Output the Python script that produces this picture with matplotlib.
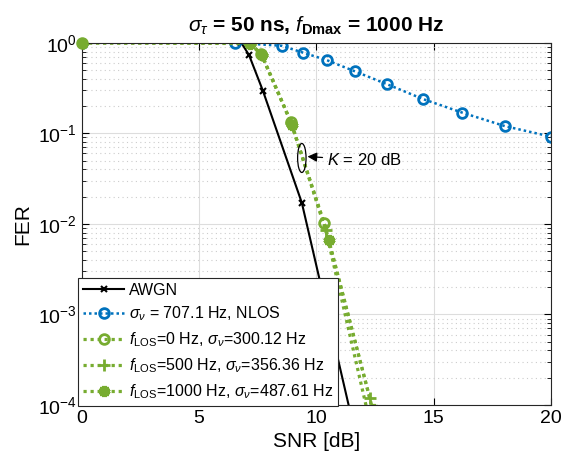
import matplotlib.pyplot as plt
import numpy as np
from matplotlib.patches import Ellipse

plt.rcParams['font.family'] = ['Liberation Sans', 'DejaVu Sans']
plt.rcParams['mathtext.fontset'] = 'custom'
plt.rcParams['mathtext.rm'] = 'Liberation Sans'
plt.rcParams['mathtext.it'] = 'Liberation Sans:italic'
plt.rcParams['mathtext.bf'] = 'Liberation Sans:bold'

# data
snr_awgn = [0, 6.8, 7.13, 7.72, 9.38, 12.0]
fer_awgn = [1, 1, 0.73, 0.295, 0.0171, 2e-5]

snr_nlos = [0, 6.52, 8.52, 9.42, 10.44, 11.65, 13.0, 14.55, 16.23, 18.05, 20.0]
fer_nlos = [1, 1, 0.927, 0.78, 0.644, 0.483, 0.35, 0.239, 0.169, 0.12, 0.092]

snr_los0 = [0, 7.15, 7.65, 8.9, 10.33, 12.2]
fer_los0 = [1, 1, 0.75, 0.135, 0.0103, 8e-5]

snr_los500 = [0, 7.15, 7.66, 8.93, 10.42, 12.28]
fer_los500 = [1, 1, 0.74, 0.13, 0.0085, 1.19e-4]

snr_los1000 = [0, 7.16, 7.68, 8.96, 10.53, 12.4]
fer_los1000 = [1, 0.98, 0.73, 0.125, 0.0066, 9e-5]

blue = '#0072BD'
green = '#77AC30'
dots = (0, (1, 1.2))

fig = plt.figure(figsize=(5.69, 4.65), dpi=100)
ax = fig.add_axes([0.144, 0.129, 0.824, 0.779])

ax.semilogy(snr_awgn, fer_awgn, '-', color='black', lw=1.5, marker='x',
            ms=5, mew=1.5, label='AWGN')
ax.semilogy(snr_nlos, fer_nlos, ls=dots, color=blue, lw=1.8, marker='o',
            ms=7, mew=2, mfc='none', label=r'$\sigma_\nu$ = 707.1 Hz, NLOS')
ax.semilogy(snr_los0, fer_los0, ls=dots, color=green, lw=2.3, marker='o',
            ms=7, mew=2, mfc='none',
            label=r'$f_{\mathrm{LOS}}$=0 Hz, $\sigma_\nu$=300.12 Hz')
ax.semilogy(snr_los500, fer_los500, ls=dots, color=green, lw=2.3, marker='+',
            ms=8, mew=2,
            label=r'$f_{\mathrm{LOS}}$=500 Hz, $\sigma_\nu$=356.36 Hz')
ax.semilogy(snr_los1000, fer_los1000, ls=dots, color=green, lw=2.3,
            marker=(6, 2, 0), ms=8, mew=3.5,
            label=r'$f_{\mathrm{LOS}}$=1000 Hz, $\sigma_\nu$=487.61 Hz')
ax.plot([0], [1], 'o', color=green, ms=8, zorder=5, clip_on=False)

ax.set_xlim(0, 20)
ax.set_ylim(1e-4, 1)
ax.set_xticks([0, 5, 10, 15, 20])
ax.tick_params(which='both', direction='in', top=True, right=True,
               labelsize=14)
ax.tick_params(which='major', length=5)
ax.tick_params(which='minor', length=3)
ax.grid(True, which='major', color='#dddddd', lw=0.8)
ax.grid(True, which='minor', axis='y', color='#cccccc', ls=(0, (1, 3)), lw=0.8)
for s in ax.spines.values():
    s.set_color('#262626')

ax.set_xlabel('SNR [dB]', fontsize=15)
ax.set_ylabel('FER', fontsize=15)
ax.set_title(r'$\sigma_\tau$ = 50 ns, $f_{\mathbf{Dmax}}$ = 1000 Hz',
             fontsize=15, fontweight='bold', x=0.5, pad=8)

# K = 20 dB annotation (drawn in axes fraction, as on the figure)
ax.add_patch(Ellipse((0.469, 0.682), 0.018, 0.08, fill=False,
                     edgecolor='black', lw=0.9, transform=ax.transAxes,
                     zorder=6))
ax.annotate(r'$K$ = 20 dB', xy=(0.481, 0.686), xycoords='axes fraction',
            xytext=(0.522, 0.676), textcoords='axes fraction',
            fontsize=12, va='center',
            arrowprops=dict(arrowstyle='-|>', color='black', lw=0.9,
                            mutation_scale=14, shrinkA=1, shrinkB=0))

leg = ax.legend(loc='lower left', bbox_to_anchor=(0.137, 0.127),
                bbox_transform=fig.transFigure, fontsize=11.5, frameon=True,
                fancybox=False, edgecolor='#262626', framealpha=1,
                borderpad=0.3, labelspacing=0.45, handlelength=2.6,
                handletextpad=0.3, borderaxespad=0)
leg.get_frame().set_linewidth(0.8)

fig.savefig('out.png', dpi=100)
